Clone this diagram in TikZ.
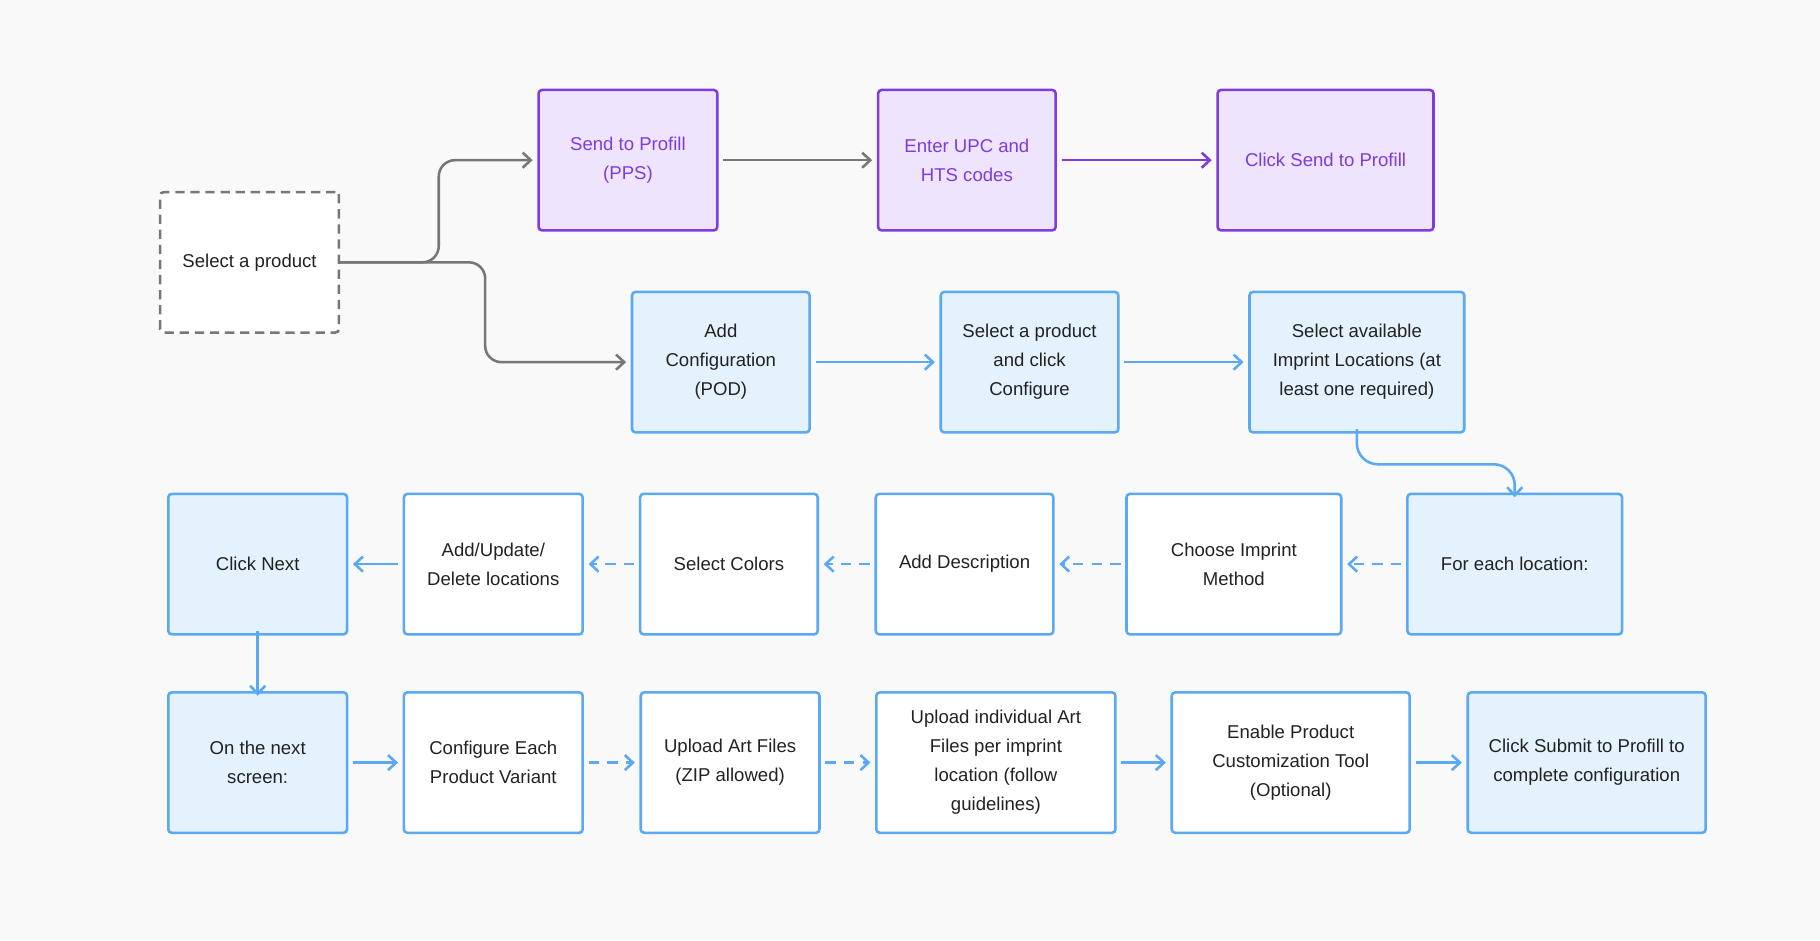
\documentclass[tikz,border=0pt]{standalone}
\usepackage{fontspec}
\setmainfont{Liberation Sans}
\usetikzlibrary{arrows.meta}
\definecolor{bg}{HTML}{F9F9F9}
\definecolor{ink}{HTML}{222222}
\definecolor{grayline}{HTML}{777777}
\definecolor{purpline}{HTML}{7E3BDF}
\definecolor{purpfill}{HTML}{EFE4FD}
\definecolor{blueline}{HTML}{5AA9F2}
\definecolor{bluefill}{HTML}{E3F2FD}
\tikzset{
  box/.style={draw=blueline, line width=2.2pt, rounded corners=3pt, minimum height=121pt,
    align=center, text=ink, font=\fontsize{16}{25}\selectfont, inner sep=2pt},
  wbox/.style={box, fill=white},
  bbox/.style={box, fill=bluefill},
  pbox/.style={box, draw=purpline, fill=purpfill, text=purpline},
  arr/.style={line width=2.2pt, draw=blueline, -{Straight Barb[length=7pt,width=13pt]}, rounded corners=14pt},
  darr/.style={arr, dash pattern=on 9pt off 7pt},
}
\begin{document}
\begin{tikzpicture}[x=1pt,y=-1pt]
  \fill[bg] (0,0) rectangle (1568,810);
  \useasboundingbox (0,0) rectangle (1568,810);
  % top row
  \node[box, fill=white, draw=grayline, dash pattern=on 8pt off 5pt, minimum width=154pt] (sel) at (215,226) {Select a product};
  \node[pbox, minimum width=154pt] (pps) at (541,138) {Send to Profill\\(PPS)};
  \node[pbox, minimum width=153pt] (upc) at (833,138) {Enter UPC and\\HTS codes};
  \node[pbox, minimum width=186pt] (clk) at (1142,138) {Click Send to Profill};
  % configuration row
  \node[bbox, minimum width=153pt] (addc) at (621,312) {Add\\Configuration\\(POD)};
  \node[bbox, minimum width=153pt] (selc) at (887,312) {Select a product\\and click\\Configure};
  \node[bbox, minimum width=185pt] (imp) at (1169,312) {Select available\\Imprint Locations (at\\least one required)};
  % per location row
  \node[bbox, minimum width=185pt] (each) at (1305,486) {For each location:};
  \node[wbox, minimum width=185pt] (choose) at (1063,486) {Choose Imprint\\Method};
  \node[wbox, minimum width=153pt] (desc) at (831,486) {Add Description};
  \node[wbox, minimum width=153pt] (colors) at (628,486) {Select Colors};
  \node[wbox, minimum width=154pt] (upd) at (425,486) {Add/Update/\\Delete locations};
  \node[bbox, minimum width=154pt] (next) at (222,486) {Click Next};
  % last row
  \node[bbox, minimum width=154pt] (screen) at (222,657) {On the next\\screen:};
  \node[wbox, minimum width=154pt] (cfg) at (425,657) {Configure Each\\Product Variant};
  \node[wbox, minimum width=154pt] (art) at (629,657) {Upload Art Files\\(ZIP allowed)};
  \node[wbox, minimum width=206pt] (indiv) at (858,657) {Upload individual Art\\Files per imprint\\location (follow\\guidelines)};
  \node[wbox, minimum width=205pt] (enable) at (1112,657) {Enable Product\\Customization Tool\\(Optional)};
  \node[bbox, minimum width=205pt] (submit) at (1367,657) {Click Submit to Profill to\\complete configuration};
  % connectors
  \draw[arr, draw=grayline] (sel.east) -- (378,226) -- (378,138) -- ([xshift=-4pt]pps.west);
  \draw[arr, draw=grayline] (sel.east) -- (418,226) -- (418,312) -- ([xshift=-4pt]addc.west);
  \draw[arr, draw=grayline] ([xshift=4pt]pps.east) -- ([xshift=-4pt]upc.west);
  \draw[arr, draw=purpline] ([xshift=4pt]upc.east) -- ([xshift=-4pt]clk.west);
  \draw[arr] ([xshift=4pt]addc.east) -- ([xshift=-4pt]selc.west);
  \draw[arr] ([xshift=4pt]selc.east) -- ([xshift=-4pt]imp.west);
  \draw[arr, rounded corners=18pt] ([yshift=4pt]imp.south) -- (1169,400) -- (1305,400) -- ([yshift=-4pt]each.north);
  \draw[darr] ([xshift=-4pt]each.west) -- ([xshift=4pt]choose.east);
  \draw[darr] ([xshift=-4pt]choose.west) -- ([xshift=4pt]desc.east);
  \draw[darr] ([xshift=-4pt]desc.west) -- ([xshift=4pt]colors.east);
  \draw[darr] ([xshift=-4pt]colors.west) -- ([xshift=4pt]upd.east);
  \draw[arr] ([xshift=-4pt]upd.west) -- ([xshift=4pt]next.east);
  \draw[arr] ([yshift=4pt]next.south) -- ([yshift=-4pt]screen.north);
  \draw[arr] ([xshift=4pt]screen.east) -- ([xshift=-4pt]cfg.west);
  \draw[darr] ([xshift=4pt]cfg.east) -- ([xshift=-4pt]art.west);
  \draw[darr] ([xshift=4pt]art.east) -- ([xshift=-4pt]indiv.west);
  \draw[arr] ([xshift=4pt]indiv.east) -- ([xshift=-4pt]enable.west);
  \draw[arr] ([xshift=4pt]enable.east) -- ([xshift=-4pt]submit.west);
\end{tikzpicture}
\end{document}
